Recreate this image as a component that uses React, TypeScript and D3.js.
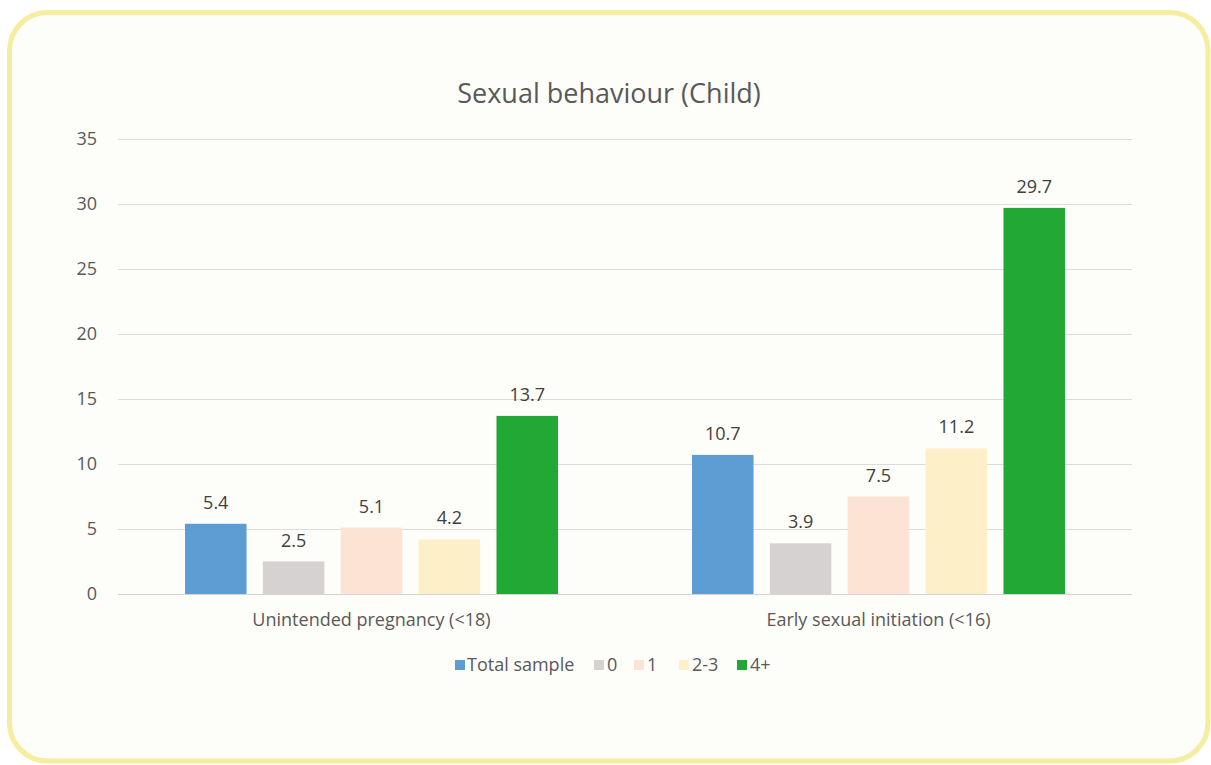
import React from "react";
import * as d3 from "d3";

const categories = ["Unintended pregnancy (<18)", "Early sexual initiation (<16)"];
const seriesNames = ["Total sample", "0", "1", "2-3", "4+"];
const seriesColors = ["#5e9cd4", "#d5d2d1", "#fce3d3", "#fdf0c9", "#21a835"];
const valuesTotal = [5.4, 10.7];
const values0 = [2.5, 3.9];
const values1 = [5.1, 7.5];
const values23 = [4.2, 11.2];
const values4plus = [13.7, 29.7];
const yTicks = [0, 5, 10, 15, 20, 25, 30, 35];
const title = "Sexual behaviour (Child)";

const seriesValues = [valuesTotal, values0, values1, values23, values4plus];

const W = 1211;
const H = 765;
const FONT = "'Open Sans', Lato, sans-serif";

export default function App() {
  const left = 118;
  const right = 1132;
  const top = 139;
  const bottom = 594;

  const y = d3.scaleLinear().domain([0, 35]).range([bottom, top]);
  const x0 = d3.scaleBand<string>().domain(categories).range([left, right]).padding(0);
  const groupPad = 67;
  const x1 = d3
    .scaleBand<string>()
    .domain(seriesNames)
    .range([groupPad, x0.bandwidth() - groupPad])
    .paddingInner(0.21)
    .paddingOuter(0);

  const legendItems = [
    { name: seriesNames[0], sq: 455, tx: 467 },
    { name: seriesNames[1], sq: 594, tx: 607 },
    { name: seriesNames[2], sq: 634, tx: 647 },
    { name: seriesNames[3], sq: 679, tx: 692 },
    { name: seriesNames[4], sq: 737, tx: 750 },
  ];

  return (
    <svg
      width={W}
      height={H}
      style={{ position: "absolute", left: 0, top: 0, background: "#ffffff" }}
      fontFamily={FONT}
    >
      <rect
        x={9.5}
        y={12.5}
        width={1198.5}
        height={748.5}
        rx={38}
        ry={38}
        fill="#fdfdf9"
        stroke="#f6ed9e"
        strokeWidth={5}
      />
      <text x={609} y={103} textAnchor="middle" fontSize={27} fill="#595959">
        {title}
      </text>
      {yTicks.map((t) => (
        <g key={t}>
          <line
            x1={left}
            x2={right}
            y1={Math.round(y(t)) + 0.5}
            y2={Math.round(y(t)) + 0.5}
            stroke={t === 0 ? "#d4d4d4" : "#dcdcdc"}
            strokeWidth={1}
          />
          <text x={97} y={y(t)} dy="0.35em" textAnchor="end" fontSize={18} fill="#595959">
            {t}
          </text>
        </g>
      ))}
      {categories.map((c, ci) => (
        <g key={c} transform={`translate(${x0(c)},0)`}>
          {seriesNames.map((s, si) => {
            const v = seriesValues[si][ci];
            const bx = x1(s) as number;
            return (
              <g key={s}>
                <rect
                  x={bx}
                  y={y(v)}
                  width={x1.bandwidth()}
                  height={y(0) - y(v)}
                  fill={seriesColors[si]}
                />
                <text
                  x={bx + x1.bandwidth() / 2}
                  y={y(v) - 15}
                  textAnchor="middle"
                  fontSize={18}
                  fill="#404040"
                >
                  {v.toFixed(1)}
                </text>
              </g>
            );
          })}
          <text
            x={x0.bandwidth() / 2}
            y={626}
            textAnchor="middle"
            fontSize={18}
            fill="#595959"
          >
            {c}
          </text>
        </g>
      ))}
      {legendItems.map((it, i) => (
        <g key={it.name}>
          <rect x={it.sq} y={660} width={10} height={10} fill={seriesColors[i]} />
          <text x={it.tx} y={665} dy="0.35em" fontSize={18} fill="#595959">
            {it.name}
          </text>
        </g>
      ))}
    </svg>
  );
}
